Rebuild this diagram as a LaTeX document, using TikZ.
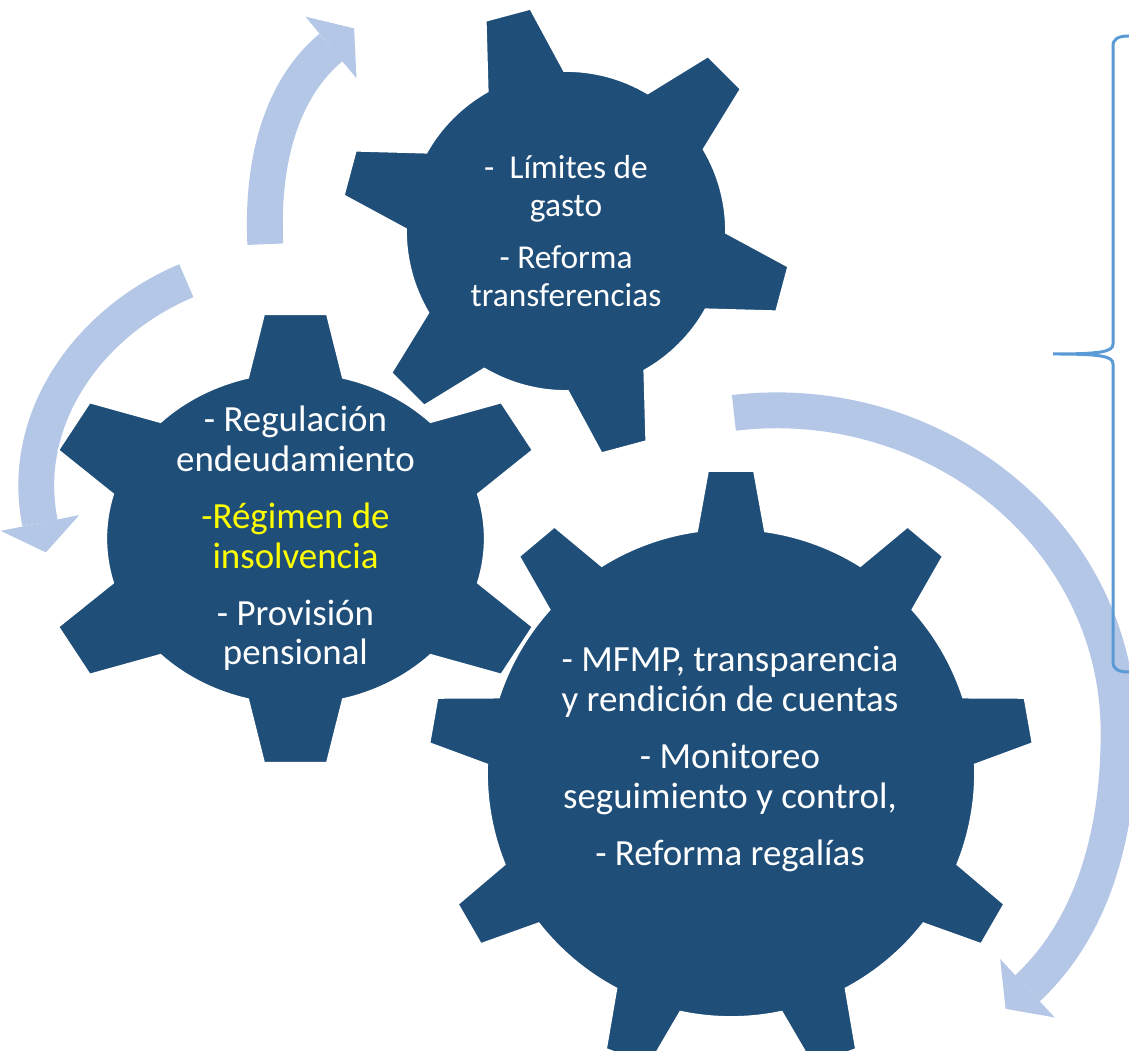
\documentclass[tikz,border=0pt]{standalone}
\usepackage{fontspec}
\setmainfont{Carlito}
\usetikzlibrary{calc, positioning}

\definecolor{gearBlue}{RGB}{31,78,121}
\definecolor{loopBlue}{RGB}{180,199,231}
\definecolor{braceBlue}{RGB}{91,155,213}
\definecolor{textYellow}{RGB}{255,255,0}

\tikzset{
    gearBody/.style={fill=gearBlue, draw=white, line width=1pt},
    loopShaft/.style={draw=loopBlue, line width=20.4pt},
    loopHead/.style={fill=loopBlue},
    gearText/.style={text=white, align=center, inner sep=0pt},
    braceLine/.style={draw=braceBlue, line width=1.7pt}
}

\begin{document}
\begin{tikzpicture}[x=0.02cm, y=0.02cm]
        \useasboundingbox (0,0) rectangle (1129,1051);
        \fill[white] (0,0) rectangle (1129,1051);
        \coordinate (cGearAPt) at (566,820);
        \coordinate (cGearBPt) at (295.5,512.5);
        \coordinate (cGearCPt) at (731,278);
        \coordinate (cLoopATail) at (265.3,806.8);
        \coordinate (cLoopAEnd) at (331,1003.5);
        \coordinate (cLoopBTail) at (733.9,638.1);
        \coordinate (cLoopBMid) at (1118.6,318);
        \coordinate (cLoopBEnd) at (1027.5,62.7);
        \coordinate (cLoopCTail) at (186.3,770.3);
        \coordinate (cLoopCEnd) at (40,528);

        % arrows behind the gears
        \draw[loopShaft] (cLoopATail) .. controls (261.1,896.7) and (284.8,965.2) .. (cLoopAEnd);
        \fill[loopHead] (305.5,1034.3) -- (354.1,1022.6) -- (356.5,972.7) -- cycle;
        \draw[loopShaft] (cLoopBTail) .. controls (932.5,661.9) and (1118.6,518) .. (cLoopBMid)
            .. controls (1118.6,224) and (1096.1,126.9) .. (cLoopBEnd);
        \fill[loopHead] (1000.2,91.9) -- (1005.6,42.2) -- (1054.8,33.5) -- cycle;
        \draw[loopShaft] (cLoopCTail) .. controls (88.4,729.1) and (19,632) .. (cLoopCEnd);
        \fill[loopHead] (0.8,520.1) -- (45.9,498.6) -- (79.2,535.9) -- cycle;

        % gears: centre/body/tip/teeth/first angle/base half-angle/tip half-angle/xscale
        \foreach \gc/\gr/\gt/\gn/\ga/\gb/\gtip/\gsx in
           {cGearAPt/160/225/6/45/14.3/5.9/1,
            cGearBPt/166/226/6/30/14.5/7.0/1.14,
            cGearCPt/244/303/9/10/8.0/4.35/1}
        {
            \begin{scope}[shift={(\gc)}, xscale=\gsx]
                \draw[gearBody] (\ga-\gb:\gr)
                    \foreach \k in {1,...,\gn} {
                        -- (\ga+\k*360/\gn-360/\gn-\gtip:\gt)
                        -- (\ga+\k*360/\gn-360/\gn+\gtip:\gt)
                        -- (\ga+\k*360/\gn-360/\gn+\gb:\gr)
                        arc[start angle=\ga+\k*360/\gn-360/\gn+\gb,
                            end angle=\ga+\k*360/\gn-\gb, radius=\gr]
                    } -- cycle;
            \end{scope}
        };

        \node[gearText, font=\fontsize{19}{21.5}\selectfont] (tGearA) at (cGearAPt)
            {-~~Límites de\\gasto\\[8.5pt]- Reforma\\transferencias};
        \node[gearText, font=\fontsize{21}{22.5}\selectfont] (tGearB) at (cGearBPt)
            {- Regulación\\endeudamiento\\[10pt]\textcolor{textYellow}{-Régimen de}\\\textcolor{textYellow}{insolvencia}\\[10pt]- Provisión\\pensional};
        \node[gearText, font=\fontsize{21}{22.5}\selectfont] (tGearC) at (730,292)
            {- MFMP, transparencia\\y rendición de cuentas\\[10pt]- Monitoreo\\seguimiento y control,\\[10pt]- Reforma regalías};

        % brace on the right
        \draw[braceLine] (1129,1015) .. controls (1118,1015) and (1113,1012) .. (1113,1005)
            -- (1113,707) .. controls (1113,699) and (1100,697) .. (1053,697)
            .. controls (1100,697) and (1113,695) .. (1113,687)
            -- (1113,389) .. controls (1113,382) and (1118,379) .. (1129,379);
\end{tikzpicture}
\end{document}
